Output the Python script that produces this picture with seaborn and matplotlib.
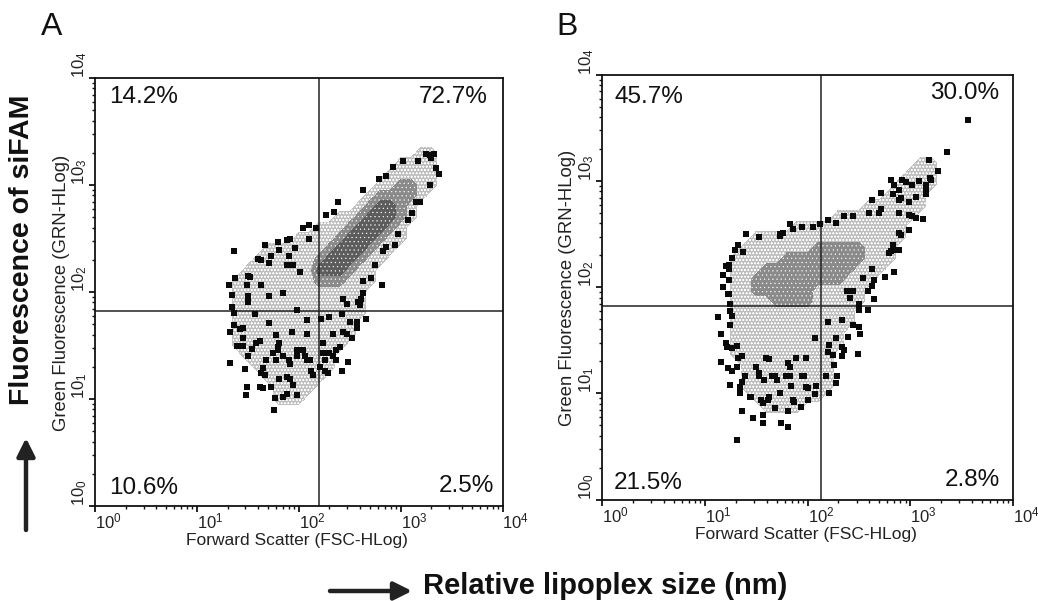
import numpy as np
import matplotlib
matplotlib.use("Agg")
import matplotlib.pyplot as plt
import seaborn as sns
from matplotlib.ticker import LogLocator, NullFormatter

# -----------------------------
# Data (log10 decades)
# -----------------------------
a_black = np.array([
    (3.29,3.28),(3.33,3.29),(3.25,3.29),(3.30,3.25),(3.35,3.16),(3.38,3.10),(3.29,3.00),(3.19,2.84),
    (3.15,2.84),(3.11,2.74),(3.07,2.67),(2.97,2.54),(2.94,2.44),(2.86,2.42),(2.83,2.38),(2.75,2.25),
    (2.71,2.13),(2.82,2.07),(2.63,2.10),(2.63,1.99),(2.58,1.91),(2.61,1.93),(2.66,1.75),(2.57,1.72),
    (2.57,1.66),(2.50,1.72),(2.52,1.57),(2.43,1.63),(2.34,1.61),(2.40,1.49),(2.34,1.40),(2.48,1.35),
    (2.42,1.26),(2.26,1.36),(2.26,1.26),(2.29,1.24),(2.12,1.26),(2.06,1.40),(1.98,1.46),(1.90,1.36),
    (1.80,1.46),(1.78,1.36),(1.88,1.21),(1.81,1.19),(1.73,1.11),(1.62,1.11),(1.49,1.11),(1.48,1.04),
    (1.77,1.01),(1.85,1.02),(1.98,1.04),(1.76,0.90),(1.65,1.29),(1.47,1.28),(1.33,1.34),(1.50,1.40),
    (1.54,1.47),(1.62,1.54),(1.39,1.50),(1.45,1.50),(1.33,1.63),(1.45,1.57),(1.45,1.66),(1.36,1.69),
    (1.36,1.80),(1.34,1.86),(1.50,1.96),(1.34,1.97),(1.32,2.07),(1.37,2.13),(1.50,2.15),(1.49,2.07),
    (1.36,2.38),(1.67,2.44),(1.60,2.31),(1.73,2.34),(1.71,2.27),(1.80,2.47),(1.81,2.39),(1.90,2.34),
    (1.91,2.50),(1.96,2.41),(2.04,2.60),(2.10,2.63),(2.17,2.60),(2.10,2.50),(2.27,2.72),(2.39,2.84),
    (2.35,2.75),(2.63,2.95),(2.79,3.06),(2.86,3.08),(2.93,3.17),(3.02,3.22),(3.17,3.22),(1.71,1.96),
    (1.63,2.07),(1.88,2.25),(1.94,2.25),(1.78,1.60),(1.71,1.71),(1.57,1.79),(1.93,1.63),(2.08,1.61),
    (2.22,1.75),(2.42,1.79),(2.08,1.74),(1.98,1.83),(1.85,1.99),(2.01,2.19),(1.80,1.49),(1.98,1.40),
    (2.08,1.36),(1.63,1.24),(1.85,1.40),(1.91,1.33),(2.24,1.43),(2.37,1.46),(2.11,1.36),(1.91,1.19),
    (1.94,1.13),(1.65,1.10),(2.30,1.77),(2.47,1.89),(2.60,1.88),(2.43,1.93),(1.42,1.65),(1.58,1.52),
    (1.81,1.52),(1.68,1.36),(1.75,1.43),(2.04,1.46),(2.24,1.52),(2.47,1.61),(2.30,1.43),(2.37,1.36),
    (2.21,1.30),(2.14,1.22),(1.67,1.22),(1.88,1.05),(1.63,2.30),(1.52,2.14),(1.50,1.91),(1.88,2.49),
])
b_black = np.array([
    (3.56,3.58),(3.36,3.27),(3.18,3.20),(3.27,3.10),(3.19,3.03),(3.15,2.96),(3.15,2.88),(3.06,2.85),
    (3.09,3.00),(3.02,2.96),(2.92,3.01),(2.96,2.99),(2.81,3.01),(2.84,2.96),(2.89,2.92),(2.83,2.88),
    (2.72,2.89),(2.63,2.82),(2.89,2.82),(2.99,2.80),(3.02,2.67),(3.12,2.64),(2.72,2.74),(2.60,2.70),
    (2.44,2.67),(2.36,2.67),(2.28,2.61),(2.20,2.63),(2.12,2.60),(2.05,2.57),(1.95,2.57),(1.83,2.60),
    (1.86,2.55),(1.73,2.50),(1.53,2.47),(1.40,2.50),(1.32,2.40),(1.29,2.35),(1.37,2.33),(1.27,2.28),
    (1.24,2.21),(1.18,2.12),(1.24,2.07),(1.18,2.00),(1.24,1.94),(1.25,1.84),(1.25,1.78),(1.13,1.72),
    (1.27,1.73),(1.16,1.56),(1.25,1.64),(1.22,1.44),(1.31,1.45),(1.16,1.30),(1.23,1.24),(1.32,1.33),
    (1.27,1.21),(1.25,1.08),(1.36,1.11),(1.34,1.00),(1.45,0.97),(1.55,0.94),(1.36,0.83),(1.47,0.77),
    (1.57,0.80),(1.57,0.72),(1.74,0.72),(1.81,0.68),(1.31,0.56),(1.68,0.86),(1.81,0.83),(1.94,0.87),
    (2.00,0.94),(2.07,0.99),(1.86,0.94),(1.62,0.94),(1.73,1.00),(1.53,1.16),(1.68,1.16),(1.83,1.16),
    (1.97,1.16),(2.08,1.07),(2.00,1.05),(1.84,1.07),(1.50,1.25),(1.60,1.33),(1.81,1.29),(1.89,1.33),
    (1.99,1.33),(2.18,1.16),(2.29,1.16),(2.26,1.27),(2.28,1.10),(2.21,1.00),(2.20,1.39),(2.25,1.36),
    (2.36,1.41),(2.49,1.37),(2.28,1.52),(2.21,1.46),(2.07,1.52),(2.39,1.53),(2.51,1.56),(2.44,1.64),
    (2.34,1.69),(2.20,1.67),(2.59,1.79),(2.50,1.79),(2.50,1.84),(2.41,1.90),(2.65,1.89),(2.59,1.96),
    (2.38,1.96),(2.54,2.09),(2.65,2.07),(2.75,2.10),(2.84,2.14),(2.63,2.17),(2.81,2.34),(2.89,2.35),
    (2.83,2.40),(2.91,2.49),(2.99,2.54),(1.53,1.19),(1.58,1.13),(1.65,1.16),(1.70,1.13),(1.79,1.16),
    (1.95,1.16),(1.99,1.06),(1.44,0.97),(1.57,0.91),(1.63,0.97),(1.87,0.92),(1.34,1.06),(1.39,1.16),
    (1.31,1.25),(1.36,1.35),(1.63,1.32),(1.83,1.25),(2.34,1.44),(2.34,1.35),(2.50,1.63),(2.44,1.96),
    (2.63,2.01),(2.83,2.35),(2.79,2.32),(2.89,2.51),(3.06,2.65),(2.99,2.68),(2.89,2.70),(2.70,2.70),
    (3.15,2.92),(3.20,3.01),(2.91,2.84),(1.73,2.48),(1.76,2.51),(1.21,2.20),(1.24,2.17),(1.23,1.94),
    (1.21,1.47),(1.27,1.43),
])

# gray density level per 0.1 decade: 0 none, 1 light, 2 medium, 3 dark
a_density_rows = [
    "0000000000000000000110", "0000000000000000011110", "0000000000000000111110",
    "0000000000000001122110", "0000000000000012222100", "0000000000000123321000",
    "0000000000011233321000", "0000000001112333210000", "0000000111123332110000",
    "0000111111233321100000", "0001111112333211000000", "0011111113332110000000",
    "0111111112221110000000", "0111111111111100000000", "0111111111111100000000",
    "0111111111111100000000", "0111111111111000000000", "0111111111111000000000",
    "0111111111110000000000", "0011111111100000000000", "0001111111100000000000",
    "0000111111000000000000", "0000011110000000000000", "0000011100000000000000",
]
a_density_x = np.arange(1.3, 3.41, 0.1)
a_density_y = np.arange(3.3, 0.99, -0.1)

b_density_rows = [
    "0000000000000000000110", "0000000000000000001110", "0000000000000000011110",
    "0000000000000000111100", "0000000000000011111100", "0000000000011111111000",
    "0000000111111111110000", "0001111111111111110000", "0011111112222211100000",
    "0111112222222211100000", "0111222222222111000000", "0112222222221110000000",
    "0112222221111100000000", "0111122221111100000000", "0111111111111000000000",
    "0111111111111000000000", "0111111111110000000000", "0111111111110000000000",
    "0111111111100000000000", "0011111111100000000000", "0011111111100000000000",
    "0011111111100000000000", "0001111111000000000000", "0000111100000000000000",
]
b_density_x = np.arange(1.2, 3.31, 0.1)
b_density_y = np.arange(3.17, 0.86, -0.1)

percent_labels = ["14.2%", "72.7%", "10.6%", "2.5%", "45.7%", "30.0%", "21.5%", "2.8%"]
gate_a = (2.198, 1.818)
gate_b = (2.136, 1.82)

W, H = 1038, 601


# -----------------------------
# Helpers
# -----------------------------
def fx(x):
    return x / W


def fy(y):
    return 1 - y / H


def draw_panel(box, rows, grid_x, grid_y, black, gate):
    left, top, right, bottom = box
    ax = fig.add_axes([fx(left), fy(bottom), (right - left) / W, (bottom - top) / H])
    ax.set_xscale("log")
    ax.set_yscale("log")

    # gray cloud, stippled like the printed dots
    z = np.array([[int(c) for c in r] for r in rows])
    z = np.pad(z, 1)
    gx = np.r_[grid_x[0] - 0.1, grid_x, grid_x[-1] + 0.1]
    gy = np.r_[grid_y[0] + 0.1, grid_y, grid_y[-1] - 0.1]
    ax.contourf(10 ** gx, 10 ** gy, z, levels=[0.5, 1.5, 2.5, 3.5],
                colors=["#bdbdbd", "#8a8a8a", "#5c5c5c"],
                hatches=["ooooo", "....", "...."], zorder=1)

    # gate lines
    ax.axvline(10 ** gate[0], color="#222222", lw=1.1, zorder=2)
    ax.axhline(10 ** gate[1], color="#222222", lw=1.1, zorder=2)

    # outlying events
    sns.scatterplot(x=10 ** black[:, 0], y=10 ** black[:, 1], marker="s", s=20,
                    color="#0a0a0a", linewidth=0, ax=ax, zorder=3, legend=False)

    ax.set_xlim(1, 1e4)
    ax.set_ylim(1, 1e4)
    for s in ax.spines.values():
        s.set_visible(True)
        s.set_color("#111111")
        s.set_linewidth(1.3)

    for axis in (ax.xaxis, ax.yaxis):
        axis.set_major_locator(LogLocator(base=10, numticks=6))
        axis.set_minor_locator(LogLocator(base=10, subs=np.arange(2, 10), numticks=6))
        axis.set_minor_formatter(NullFormatter())
    ax.tick_params(which="major", length=4, width=1.3, color="#111111", bottom=True, left=True)
    ax.tick_params(which="minor", length=2, width=1, color="#111111", bottom=True, left=True)

    ax.set_xticks([1, 10, 100, 1000, 10000])
    ax.set_xticklabels([r"$\mathregular{10^{%d}}$" % i for i in range(5)],
                       fontsize=12, color="#222222", ha="left")
    ax.set_yticks([1, 10, 100, 1000, 10000])
    ax.set_yticklabels([r"$\mathregular{10_{%d}}$" % i for i in range(5)],
                       fontsize=12, color="#222222", rotation=90, va="bottom")
    ax.tick_params(axis="x", which="major", pad=0)
    ax.tick_params(axis="y", which="major", pad=0)
    return ax


# -----------------------------
# Figure
# -----------------------------
sns.set_theme(style="white")
plt.rcParams["font.family"] = ["Liberation Sans", "DejaVu Sans"]
plt.rcParams["mathtext.fontset"] = "custom"
plt.rcParams["mathtext.rm"] = "Liberation Sans"
plt.rcParams["hatch.color"] = "#ffffff"
plt.rcParams["hatch.linewidth"] = 0.35

fig = plt.figure(figsize=(W / 100, H / 100), dpi=100, facecolor="white")

draw_panel((95, 78, 502.5, 506), a_density_rows, a_density_x, a_density_y, a_black, gate_a)
draw_panel((602, 75, 1013, 499.5), b_density_rows, b_density_x, b_density_y, b_black, gate_b)

# axis captions
for cx, cy in [(297, 541), (806, 535)]:
    fig.text(fx(cx), fy(cy), "Forward Scatter (FSC-HLog)", fontsize=12.5, color="#222222",
             ha="center", va="center")
for cx, cy in [(62, 293), (567, 288)]:
    fig.text(fx(cx), fy(cy), "Green Fluorescence (GRN-HLog)", fontsize=13.3, color="#222222",
             rotation=90, ha="center", va="center")

# percent labels
label_pos = [(144, 97), (453, 97), (144, 488), (466, 486), (649, 97), (965, 93), (648, 483), (972, 480)]
for text, (cx, cy) in zip(percent_labels, label_pos):
    fig.text(fx(cx), fy(cy), text, fontsize=17.5, color="#111111", ha="center", va="center")

# panel letters and big captions
fig.text(fx(52), fy(27), "A", fontsize=23, color="#111111", ha="center", va="center")
fig.text(fx(567), fy(27), "B", fontsize=23, color="#111111", ha="center", va="center")
fig.text(fx(22), fy(250), "Fluorescence of siFAM", fontsize=20.5, fontweight="bold", color="#111111",
         rotation=90, ha="center", va="center")
fig.text(fx(423), fy(586), "Relative lipoplex size (nm)", fontsize=21, fontweight="bold",
         color="#111111", ha="left", va="center")

# arrows
arrow_style = dict(arrowstyle="-|>,head_width=0.3,head_length=0.6", color="#222222", lw=3.2,
                   shrinkA=0, shrinkB=0, mutation_scale=18)
fig.add_artist(matplotlib.patches.FancyArrowPatch((fx(26), fy(530)), (fx(26), fy(438)),
                                                  transform=fig.transFigure, **arrow_style))
fig.add_artist(matplotlib.patches.FancyArrowPatch((fx(330), fy(591)), (fx(412), fy(591)),
                                                  transform=fig.transFigure, **arrow_style))

fig.savefig("out.png", dpi=100)
